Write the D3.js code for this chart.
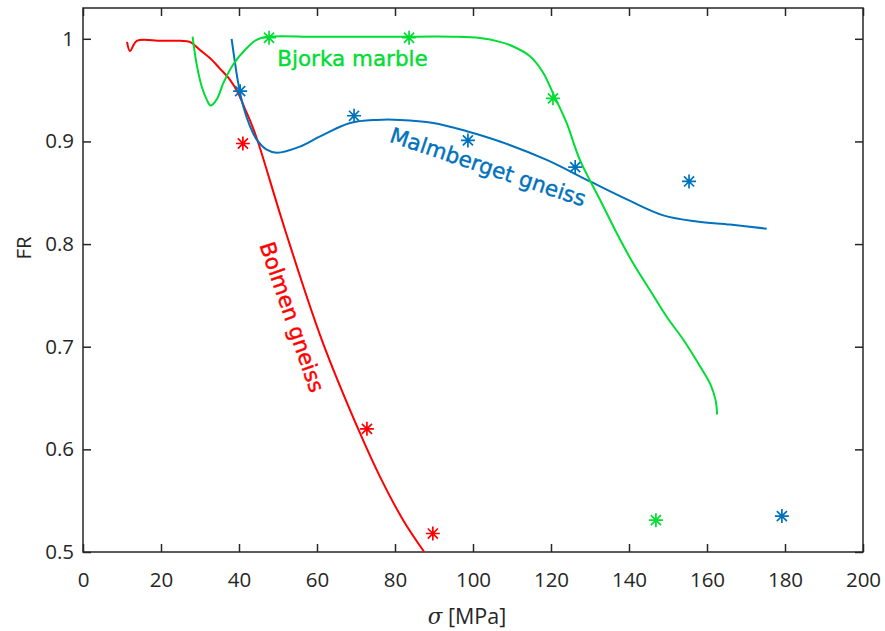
<!DOCTYPE html>
<html><head><meta charset="utf-8">
<script src="https://cdn.jsdelivr.net/npm/d3@7"></script>
<style>
body{margin:0;background:#fff;}
svg{display:block;}
</style></head>
<body>
<svg id="chart" width="885" height="631"></svg>
<script>
// ---- data ----
const xTicks = [0,20,40,60,80,100,120,140,160,180,200];
const yTicks = [0.5,0.6,0.7,0.8,0.9,1];
const seriesNames = ["Bolmen gneiss","Malmberget gneiss","Bjorka marble"];

// Bolmen gneiss (red) fitted curve
const bolmenX = [11.3,12.05,13.8,20,24.9,27.4,30,32.6,35.1,37.7,39.8,41.5,43.3,45,51.8,61.2,71,76.2,82.1,87.5];
const bolmenY = [0.997,0.988,0.998,0.998,0.998,0.997,0.989,0.981,0.971,0.960,0.947,0.932,0.916,0.898,0.814,0.707,0.616,0.573,0.531,0.5];
const bolmenPtsX = [41.0,72.8,89.7];
const bolmenPtsY = [0.898,0.620,0.518];

// Malmberget gneiss (blue)
const malmX = [38.1,39.0,39.8,41.1,42.8,44.5,47.1,49.7,55.6,60.8,68.5,75.3,81.3,89.8,98.4,106.9,118.9,130,140.3,148.8,157.4,165.9,175.3];
const malmY = [1.0,0.976,0.957,0.934,0.915,0.902,0.892,0.889,0.895,0.905,0.918,0.921,0.921,0.918,0.910,0.900,0.882,0.861,0.842,0.828,0.822,0.819,0.815];
const malmPtsX = [40.3,69.5,98.7,126.2,155.4,179.2];
const malmPtsY = [0.949,0.925,0.901,0.875,0.861,0.535];

// Bjorka marble (green)
const bjorX = [28.1,29.1,30.4,31.7,32.7,34.3,36.0,38.5,42.0,44.5,47.1,60,80,95,101.8,106.9,110.3,114.6,118,120.5,124,127.4,132.6,136.8,141.1,145.4,149.7,153.9,158.2,160.8,162.2,162.6];
const bjorY = [1.002,0.976,0.954,0.941,0.935,0.941,0.957,0.975,0.991,0.999,1.002,1.002,1.002,1.002,1.0007,0.997,0.9925,0.983,0.967,0.947,0.918,0.882,0.843,0.811,0.781,0.755,0.729,0.707,0.681,0.664,0.648,0.634];
const bjorPtsX = [47.7,83.6,120.5,146.9];
const bjorPtsY = [1.001,1.001,0.942,0.531];

// ---- drawing ----
const svg = d3.select("#chart");
const m = {left:83, top:8, right:22, bottom:79};
const W = 885 - m.left - m.right, H = 631 - m.top - m.bottom;
const x = d3.scaleLinear().domain([0,200]).range([0,W]);
const y = d3.scaleLinear().domain([0.5,1.03]).range([H,0]);
const g = svg.append("g").attr("transform",`translate(${m.left},${m.top})`);

const axisColor = "#262626";
const tickFont = "'Open Sans', sans-serif";

function styleAxis(sel, showLabels){
  sel.select(".domain").remove();
  sel.selectAll(".tick line").attr("stroke",axisColor).attr("stroke-width",1.5);
  sel.selectAll(".tick text").attr("fill",axisColor).style("font-family",tickFont).style("font-size","20.5px");
  if(!showLabels) sel.selectAll(".tick text").remove();
}

g.append("g").attr("transform",`translate(0,${H})`)
  .call(d3.axisBottom(x).tickValues(xTicks).tickSizeInner(-8).tickSizeOuter(0).tickPadding(20).tickFormat(d3.format("d")))
  .call(s=>styleAxis(s,true));
g.append("g")
  .call(d3.axisTop(x).tickValues(xTicks).tickSizeInner(-8).tickSizeOuter(0))
  .call(s=>styleAxis(s,false));
g.append("g")
  .call(d3.axisLeft(y).tickValues(yTicks).tickSizeInner(-8).tickSizeOuter(0).tickPadding(9).tickFormat(d=>d===1?"1":d3.format(".1f")(d)))
  .call(s=>styleAxis(s,true));
g.append("g").attr("transform",`translate(${W},0)`)
  .call(d3.axisRight(y).tickValues(yTicks).tickSizeInner(-8).tickSizeOuter(0))
  .call(s=>styleAxis(s,false));

g.append("rect").attr("x",0).attr("y",0).attr("width",W).attr("height",H)
  .attr("fill","none").attr("stroke",axisColor).attr("stroke-width",1.5);

const colors = {red:"#ff0000", blue:"#0072bd", green:"#00dd33"};

const line = d3.line().x(d=>x(d[0])).y(d=>y(d[1])).curve(d3.curveCatmullRom.alpha(0.5));
function drawCurve(xs, ys, col){
  g.append("path").datum(xs.map((v,i)=>[v,ys[i]]))
    .attr("d",line).attr("fill","none").attr("stroke",col).attr("stroke-width",2);
}
function drawStars(xs, ys, col){
  const r = 7, rd = r*0.72;
  const star = `M${-r},0L${r},0M0,${-r}L0,${r}M${-rd},${-rd}L${rd},${rd}M${-rd},${rd}L${rd},${-rd}`;
  g.append("g").selectAll("path").data(xs.map((v,i)=>[v,ys[i]])).join("path")
    .attr("transform",d=>`translate(${x(d[0])},${y(d[1])})`)
    .attr("d",star).attr("stroke",col).attr("stroke-width",1.7).attr("fill","none");
}

drawCurve(bolmenX,bolmenY,colors.red);
drawCurve(malmX,malmY,colors.blue);
drawCurve(bjorX,bjorY,colors.green);
drawStars(bolmenPtsX,bolmenPtsY,colors.red);
drawStars(malmPtsX,malmPtsY,colors.blue);
drawStars(bjorPtsX,bjorPtsY,colors.green);

const labelFont = "'DejaVu Sans', sans-serif";
function curveLabel(text, cx, cy, angle, col){
  svg.append("text").attr("transform",`translate(${cx},${cy}) rotate(${angle})`)
    .attr("text-anchor","middle").attr("dominant-baseline","central")
    .style("font-family",labelFont).style("font-size","21.5px")
    .attr("fill",col).attr("stroke",col).attr("stroke-width",0.4).text(text);
}
curveLabel(seriesNames[2], 352.5, 58, 0, colors.green);
curveLabel(seriesNames[1], 488, 167, 18.5, colors.blue);
curveLabel(seriesNames[0], 292, 317, 71, colors.red);

// axis titles
const xt = svg.append("text").attr("x",467).attr("y",624).attr("text-anchor","middle")
  .style("font-family",tickFont).style("font-size","21.5px").attr("fill",axisColor);
xt.append("tspan").style("font-style","italic").style("font-family","'DejaVu Serif', serif").text("σ");
xt.append("tspan").text(" [MPa]");
svg.append("text").attr("transform","translate(31,248) rotate(-90)").attr("text-anchor","middle")
  .style("font-family",tickFont).style("font-size","20.5px").attr("fill",axisColor).text("FR");
</script>
</body></html>
